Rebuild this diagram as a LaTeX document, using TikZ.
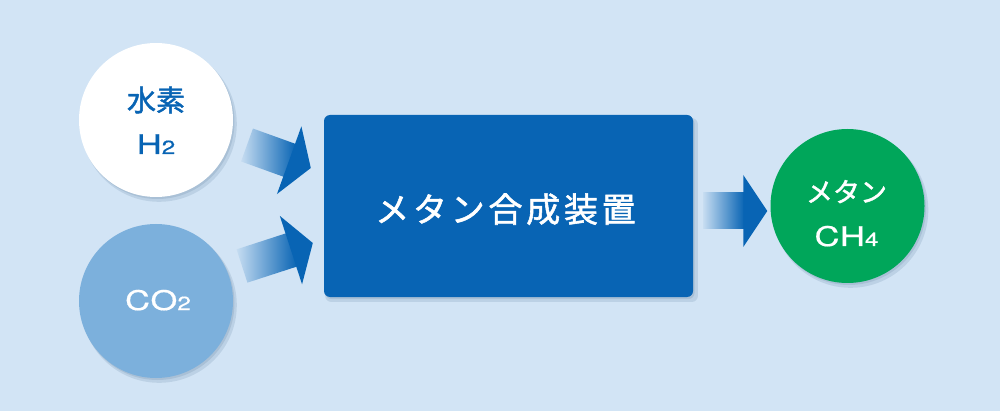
\documentclass[tikz,border=0pt]{standalone}
\usepackage{fontspec}
\setmainfont{Noto Sans CJK JP}[FakeBold=1.6]
\newfontfamily\latinfont{TeX Gyre Heros}[FakeStretch=1.28, FakeBold=0.6, LetterSpace=3]
\usetikzlibrary{calc,shadows}
\definecolor{bgc}{RGB}{210,228,245}
\definecolor{mblue}{RGB}{8,100,180}
\definecolor{cblue}{RGB}{124,176,220}
\definecolor{mgreen}{RGB}{0,166,90}
\newcommand\gradarrow[5]{%
  \coordinate (hb) at ($(#2)!#5!(#1)$);
  \coordinate (hbx) at ($(#2)!#5-1pt!(#1)$);
  \shade[left color=mblue!6!bgc, middle color=mblue!60!bgc, right color=mblue]
    ($(#1)!#3!90:(#2)$) -- ($(#1)!#3!-90:(#2)$) -- ($(hbx)!#3!-90:(#2)$) -- ($(hbx)!#3!90:(#2)$) -- cycle;
  \fill[mblue] ($(hb)!#4!90:(#2)$) -- (#2) -- ($(hb)!#4!-90:(#2)$) -- cycle;
}
\newcommand\subsc[1]{{\fontsize{19}{19}\selectfont #1}}
\begin{document}
\begin{tikzpicture}[x=1pt,y=-1pt,
  softshadow/.style={
    drop shadow={opacity=.10, shadow xshift=3pt, shadow yshift=-4pt, shadow scale=1.01, fill=mblue!50!black},
    drop shadow={opacity=.10, shadow xshift=1.5pt, shadow yshift=-2pt, fill=mblue!50!black}},
  circ/.style={circle, minimum size=154pt, inner sep=0pt, draw=none, softshadow},
  lbl/.style={anchor=base, inner sep=0pt},
  bigcjk/.style={font=\fontsize{29}{34}\selectfont},
  latin/.style={font=\latinfont\fontsize{27}{32}\selectfont}]
\useasboundingbox (0,0) rectangle (1000,411);
\fill[bgc] (0,0) rectangle (1000,411);

\node[circ, fill=white] (h2) at (156,120) {};
\node[circ, fill=cblue] (co2) at (156,301) {};
\node[circ, fill=mgreen] (ch4) at (847.5,206) {};
\node[rectangle, rounded corners=6pt, fill=mblue, minimum width=369pt, minimum height=182pt, inner sep=0pt, softshadow] (box) at (508.5,206) {};

\node[lbl, bigcjk, text=mblue] (h2a) at ($(h2.center)+(0,-9)$) {水素};
\node[lbl, latin, text=mblue] (h2b) at ($(h2.center)+(0,34)$) {H\subsc{2}};
\node[lbl, latin, text=white] (co2a) at ($(co2.center)+(2,9)$) {CO\subsc{2}};
\node[lbl, text=white, font=\fontsize{27}{32}\selectfont] (ch4a) at ($(ch4.center)+(-1,-4)$) {メタン};
\node[lbl, latin, text=white] (ch4b) at ($(ch4.center)+(-1,40)$) {CH\subsc{4}};
\node[lbl, text=white, font=\fontsize{34}{40}\selectfont\addfontfeature{LetterSpace=11}] (boxt) at ($(box.center)+(-3,16)$) {メタン合成装置};

\coordinate (a1s) at ($(h2.center)+(91,25)$);
\coordinate (a1t) at ($(box.west)+(-13,-38)$);
\coordinate (a2s) at ($(co2.center)+(86,-35)$);
\coordinate (a2t) at ($(box.west)+(-11,37)$);
\coordinate (a3s) at ($(box.east)+(10,5)$);
\coordinate (a3t) at ($(ch4.west)+(-3,5)$);
\gradarrow{a1s}{a1t}{17.5pt}{36pt}{23pt}
\gradarrow{a2s}{a2t}{17.5pt}{36pt}{23pt}
\gradarrow{a3s}{a3t}{18pt}{36pt}{24pt}
\end{tikzpicture}
\end{document}
